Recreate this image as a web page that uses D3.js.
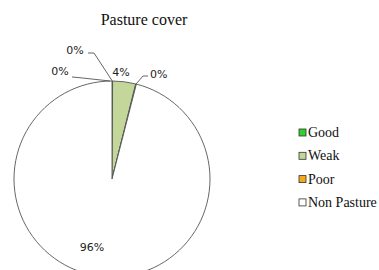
<!DOCTYPE html>
<html>
<head>
<meta charset="utf-8">
<script src="https://cdn.jsdelivr.net/npm/d3@7"></script>
<style>
  body { margin: 0; background: #fff; }
  svg { display: block; }
</style>
</head>
<body>
<div id="chart"></div>
<script>
// data
var categories = ["Good", "Weak", "Poor", "Non Pasture"];
var values = [0.1, 3.8, 0.1, 96.0];
var labels = ["0%", "4%", "0%", "96%"];
var colors = ["#2fd12f", "#c4d79b", "#f2a91c", "#ffffff"];

var width = 379, height = 270;
var cx = 112, cy = 179, radius = 98;

var svg = d3.select("#chart").append("svg")
    .attr("width", width)
    .attr("height", height);

svg.append("text")
    .attr("x", 144)
    .attr("y", 25)
    .attr("text-anchor", "middle")
    .style("font-family", "'Liberation Serif', 'Times New Roman', serif")
    .style("font-size", "16px")
    .style("fill", "#111")
    .text("Pasture cover");

var data = categories.map(function(c, i) {
    return { name: c, value: values[i], label: labels[i], color: colors[i] };
});

var pie = d3.pie().sort(null).value(function(d) { return d.value; });
var arc = d3.arc().innerRadius(0).outerRadius(radius);
var arcs = pie(data);

var g = svg.append("g").attr("transform", "translate(" + cx + "," + cy + ")");

g.selectAll("path")
    .data(arcs)
    .enter()
    .append("path")
    .attr("d", arc)
    .style("fill", function(d) { return d.data.color; })
    .style("stroke", "#555")
    .style("stroke-width", 0.9);

// label placement (relative to pie centre), leader lines for the tiny slices
var labelPos = [
    { x: -37, y: -125, anchor: "middle", leader: [[-24, -126], [-18, -126]] },
    { x: 9, y: -103, anchor: "middle", leader: null },
    { x: 38, y: -101, anchor: "start", leader: [[36, -103], [31, -103]] },
    { x: -20, y: 72, anchor: "middle", leader: null }
];
// extra "0%" on the left, pointing at the top of the pie as in the original
var extraLabel = { x: -52, y: -104, leader: [[-40, -102], [-34, -101.5]] };

function edgePoint(d) {
    var a = (d.startAngle + d.endAngle) / 2;
    return [Math.sin(a) * radius, -Math.cos(a) * radius];
}

var labelFont = "'DejaVu Sans', Verdana, sans-serif";

arcs.forEach(function(d, i) {
    var p = labelPos[i];
    if (p.leader) {
        var pts = p.leader.concat([edgePoint(d)]);
        g.append("path")
            .attr("d", d3.line()(pts))
            .style("fill", "none")
            .style("stroke", "#555")
            .style("stroke-width", 0.9);
    }
    g.append("text")
        .attr("x", p.x)
        .attr("y", p.y)
        .attr("text-anchor", p.anchor)
        .style("font-family", labelFont)
        .style("font-size", "11px")
        .style("fill", "#222")
        .text(d.data.label);
});

g.append("path")
    .attr("d", d3.line()(extraLabel.leader.concat([[-2, -radius]])))
    .style("fill", "none")
    .style("stroke", "#555")
    .style("stroke-width", 0.9);
g.append("text")
    .attr("x", extraLabel.x)
    .attr("y", extraLabel.y)
    .attr("text-anchor", "middle")
    .style("font-family", labelFont)
    .style("font-size", "11px")
    .style("fill", "#222")
    .text("0%");

// legend
var legend = svg.append("g").attr("transform", "translate(299,129)");
var item = legend.selectAll("g")
    .data(data)
    .enter()
    .append("g")
    .attr("transform", function(d, i) { return "translate(0," + (i * 23.3) + ")"; });

item.append("rect")
    .attr("width", 7)
    .attr("height", 7)
    .style("fill", function(d) { return d.color; })
    .style("stroke", "#333")
    .style("stroke-width", 0.8);

item.append("text")
    .attr("x", 9)
    .attr("y", 8)
    .style("font-family", "'Liberation Serif', 'Times New Roman', serif")
    .style("font-size", "14px")
    .style("fill", "#111")
    .text(function(d) { return d.name; });
</script>
</body>
</html>
